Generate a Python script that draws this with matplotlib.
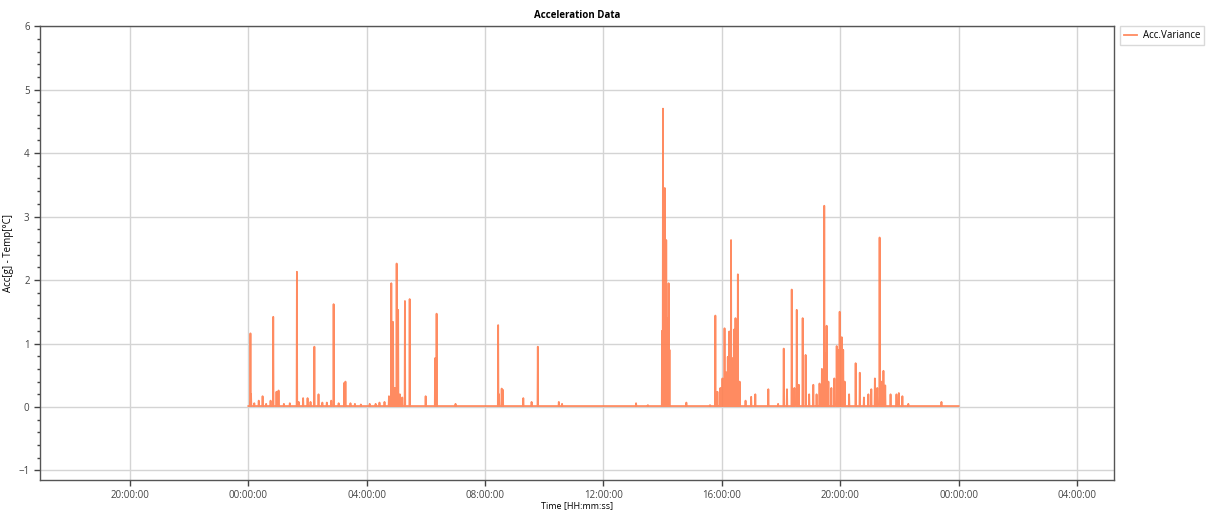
import matplotlib.pyplot as plt
from matplotlib.ticker import MultipleLocator, FixedLocator

# Acc. variance: hours after the first midnight, value
spike_hours = [0.07, 0.09, 0.20, 0.35, 0.48, 0.60, 0.75, 0.84, 0.95, 1.02, 1.20, 1.40,
               1.64, 1.70, 1.85, 2.00, 2.10, 2.23, 2.37, 2.50, 2.65, 2.80, 2.88, 3.05,
               3.24, 3.28, 3.45, 3.60, 3.80, 4.10, 4.30, 4.43, 4.60, 4.75, 4.83, 4.87,
               4.89, 4.95, 5.01, 5.06, 5.12, 5.20, 5.29, 5.45, 5.99, 6.31, 6.36, 7.00,
               8.44, 8.47, 8.56, 8.60, 9.29, 9.57, 9.78, 10.49, 10.60, 13.10, 13.50,
               13.98, 14.01, 14.04, 14.07, 14.10, 14.12, 14.15, 14.18, 14.20, 14.23,
               14.80, 15.60, 15.78, 15.85, 15.95, 16.02, 16.09, 16.14, 16.20, 16.25,
               16.31, 16.36, 16.41, 16.46, 16.50, 16.54, 16.60, 16.80, 16.99, 17.13,
               17.57, 17.90, 18.09, 18.20, 18.36, 18.45, 18.53, 18.60, 18.73, 18.83,
               18.95, 19.09, 19.20, 19.30, 19.38, 19.46, 19.50, 19.54, 19.60, 19.70,
               19.80, 19.88, 19.94, 19.98, 20.02, 20.05, 20.10, 20.15, 20.30, 20.52,
               20.66, 20.80, 20.95, 21.05, 21.17, 21.25, 21.33, 21.40, 21.46, 21.52,
               21.70, 21.90, 21.98, 22.10, 22.30, 23.42]
spike_values = [1.16, 0.20, 0.06, 0.10, 0.17, 0.05, 0.10, 1.42, 0.24, 0.26, 0.05, 0.06,
                2.13, 0.08, 0.14, 0.14, 0.08, 0.95, 0.20, 0.07, 0.07, 0.10, 1.62, 0.06,
                0.38, 0.40, 0.06, 0.05, 0.04, 0.05, 0.05, 0.07, 0.08, 0.17, 1.95, 0.18,
                1.34, 0.30, 2.26, 1.53, 0.20, 0.15, 1.67, 1.70, 0.17, 0.77, 1.47, 0.05,
                1.29, 0.20, 0.29, 0.27, 0.14, 0.08, 0.95, 0.08, 0.05, 0.06, 0.03,
                1.20, 4.70, 2.10, 3.45, 1.60, 2.63, 1.40, 1.26, 1.95, 0.90,
                0.07, 0.03, 1.44, 0.24, 0.30, 0.45, 1.24, 0.55, 0.79, 1.19,
                2.63, 0.77, 1.22, 1.40, 1.37, 2.09, 0.40, 0.10, 0.16, 0.20,
                0.28, 0.05, 0.92, 0.28, 1.85, 0.30, 1.53, 0.35, 1.40, 0.82,
                0.20, 0.35, 0.20, 0.37, 0.60, 3.17, 0.84, 1.28, 0.40, 0.30,
                0.45, 0.96, 0.90, 1.50, 0.70, 1.10, 0.90, 0.40, 0.20, 0.69,
                0.54, 0.15, 0.20, 0.28, 0.45, 0.30, 2.67, 0.40, 0.57, 0.34,
                0.20, 0.20, 0.22, 0.17, 0.05, 0.08]
base_value = 0.015
data_start, data_end = 0.0, 24.0

tick_hours = [-4, 0, 4, 8, 12, 16, 20, 24, 28]
tick_labels = ["20:00:00", "00:00:00", "04:00:00", "08:00:00", "12:00:00",
               "16:00:00", "20:00:00", "00:00:00", "04:00:00"]

# each spike becomes base -> peak -> base so the line looks like the original trace
xs = [data_start]
ys = [base_value]
half = 0.01
for t, v in sorted(zip(spike_hours, spike_values)):
    xs += [t - half, t, t + half]
    ys += [base_value, v, base_value]
xs.append(data_end)
ys.append(base_value)

plt.rcParams['font.family'] = ['Open Sans', 'DejaVu Sans']
fig = plt.figure(figsize=(12.06, 5.12), dpi=100)
ax = fig.add_axes([0.0332, 0.0625, 0.8905, 0.8865])

ax.plot(xs, ys, color='#FF7F50', linewidth=1.3, alpha=0.9, label='Acc.Variance')

ax.set_xlim(-7.04, 29.25)
ax.set_ylim(-1.15, 6)
ax.xaxis.set_major_locator(FixedLocator(tick_hours))
ax.set_xticklabels(tick_labels)
ax.yaxis.set_major_locator(MultipleLocator(1))
ax.yaxis.set_minor_locator(MultipleLocator(0.2))
ax.tick_params(axis='both', which='major', labelsize=7, colors='#444444', length=4, width=1)
ax.tick_params(axis='x', which='major', pad=3)
ax.tick_params(axis='y', which='minor', length=2, width=1, color='#444444')
ax.grid(True, color='#d4d4d4', linewidth=1)
ax.set_axisbelow(True)
for s in ax.spines.values():
    s.set_color('#555555')
    s.set_linewidth(1)

ax.set_title('Acceleration Data', fontsize=7, fontweight='bold', pad=6)
ax.set_xlabel('Time [HH:mm:ss]', fontsize=6.5, labelpad=0)
ax.xaxis.set_label_coords(0.5, -0.046)
ax.set_ylabel('Acc[g] - Temp[°C]', fontsize=7)
ax.yaxis.set_label_coords(-0.024, 0.5)

leg = ax.legend(loc='upper left', bbox_to_anchor=(1.006, 1.0), fontsize=7,
                frameon=True, fancybox=False, borderaxespad=0, handlelength=1.3,
                handletextpad=0.6)
leg.get_frame().set_edgecolor('#d0d0d0')
leg.get_frame().set_linewidth(1)

plt.savefig("out.png", dpi=100)
